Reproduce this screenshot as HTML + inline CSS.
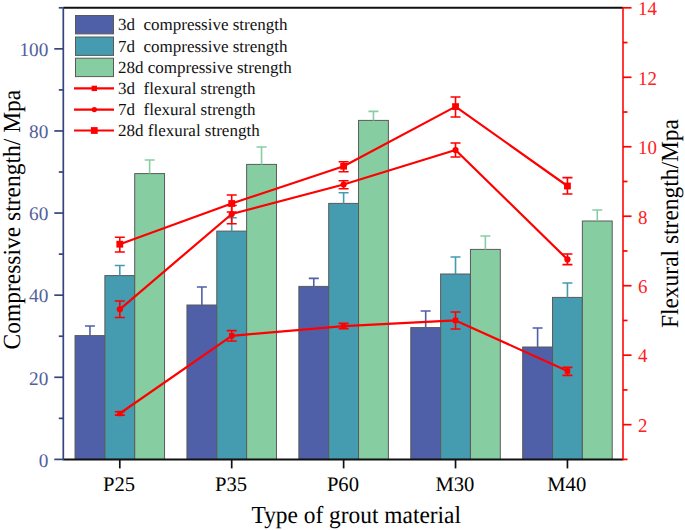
<!DOCTYPE html><html><head><meta charset="utf-8"><style>html,body{margin:0;padding:0;background:#fff;width:685px;height:530px;overflow:hidden}svg{display:block}text{font-family:"Liberation Serif",serif;text-rendering:geometricPrecision}</style></head><body>
<svg width="685" height="530" viewBox="0 0 685 530">
<rect x="75.04" y="335.60" width="29.84" height="123.80" fill="#4f60a9" stroke="#5a5a5a" stroke-width="1"/>
<path d="M89.96 335.60V326.00M84.96 326.00H94.96" stroke="#4f60a9" stroke-width="1.6" fill="none"/>
<rect x="186.95" y="305.00" width="29.84" height="154.40" fill="#4f60a9" stroke="#5a5a5a" stroke-width="1"/>
<path d="M201.87 305.00V287.00M196.87 287.00H206.87" stroke="#4f60a9" stroke-width="1.6" fill="none"/>
<rect x="298.86" y="286.40" width="29.84" height="173.00" fill="#4f60a9" stroke="#5a5a5a" stroke-width="1"/>
<path d="M313.78 286.40V278.40M308.78 278.40H318.78" stroke="#4f60a9" stroke-width="1.6" fill="none"/>
<rect x="410.77" y="327.60" width="29.84" height="131.80" fill="#4f60a9" stroke="#5a5a5a" stroke-width="1"/>
<path d="M425.69 327.60V311.00M420.69 311.00H430.69" stroke="#4f60a9" stroke-width="1.6" fill="none"/>
<rect x="522.68" y="347.00" width="29.84" height="112.40" fill="#4f60a9" stroke="#5a5a5a" stroke-width="1"/>
<path d="M537.60 347.00V328.00M532.60 328.00H542.60" stroke="#4f60a9" stroke-width="1.6" fill="none"/>
<rect x="104.88" y="275.60" width="29.84" height="183.80" fill="#459bb0" stroke="#5a5a5a" stroke-width="1"/>
<path d="M119.80 275.60V265.50M114.80 265.50H124.80" stroke="#459bb0" stroke-width="1.6" fill="none"/>
<rect x="216.79" y="231.10" width="29.84" height="228.30" fill="#459bb0" stroke="#5a5a5a" stroke-width="1"/>
<path d="M231.71 231.10V217.70M226.71 217.70H236.71" stroke="#459bb0" stroke-width="1.6" fill="none"/>
<rect x="328.70" y="203.40" width="29.84" height="256.00" fill="#459bb0" stroke="#5a5a5a" stroke-width="1"/>
<path d="M343.62 203.40V192.70M338.62 192.70H348.62" stroke="#459bb0" stroke-width="1.6" fill="none"/>
<rect x="440.61" y="274.00" width="29.84" height="185.40" fill="#459bb0" stroke="#5a5a5a" stroke-width="1"/>
<path d="M455.53 274.00V257.00M450.53 257.00H460.53" stroke="#459bb0" stroke-width="1.6" fill="none"/>
<rect x="552.52" y="297.40" width="29.84" height="162.00" fill="#459bb0" stroke="#5a5a5a" stroke-width="1"/>
<path d="M567.44 297.40V283.00M562.44 283.00H572.44" stroke="#459bb0" stroke-width="1.6" fill="none"/>
<rect x="134.72" y="173.60" width="29.84" height="285.80" fill="#86cea2" stroke="#5a5a5a" stroke-width="1"/>
<path d="M149.64 173.60V160.00M144.64 160.00H154.64" stroke="#86cea2" stroke-width="1.6" fill="none"/>
<rect x="246.63" y="164.40" width="29.84" height="295.00" fill="#86cea2" stroke="#5a5a5a" stroke-width="1"/>
<path d="M261.55 164.40V147.00M256.55 147.00H266.55" stroke="#86cea2" stroke-width="1.6" fill="none"/>
<rect x="358.54" y="120.40" width="29.84" height="339.00" fill="#86cea2" stroke="#5a5a5a" stroke-width="1"/>
<path d="M373.46 120.40V111.40M368.46 111.40H378.46" stroke="#86cea2" stroke-width="1.6" fill="none"/>
<rect x="470.45" y="249.40" width="29.84" height="210.00" fill="#86cea2" stroke="#5a5a5a" stroke-width="1"/>
<path d="M485.37 249.40V236.00M480.37 236.00H490.37" stroke="#86cea2" stroke-width="1.6" fill="none"/>
<rect x="582.36" y="221.00" width="29.84" height="238.40" fill="#86cea2" stroke="#5a5a5a" stroke-width="1"/>
<path d="M597.28 221.00V210.00M592.28 210.00H602.28" stroke="#86cea2" stroke-width="1.6" fill="none"/>
<path d="M119.80 413.50 L231.71 335.80 L343.62 326.10 L455.53 320.40 L567.44 371.00" stroke="#ff0000" stroke-width="2.2" fill="none" stroke-linejoin="round"/>
<path d="M119.80 411.80V415.10M114.80 411.80H124.80M114.80 415.10H124.80" stroke="#ff0000" stroke-width="1.6" fill="none"/>
<rect x="117.10" y="410.80" width="5.4" height="5.4" fill="#ff0000"/>
<path d="M231.71 330.60V341.00M226.71 330.60H236.71M226.71 341.00H236.71" stroke="#ff0000" stroke-width="1.6" fill="none"/>
<rect x="229.01" y="333.10" width="5.4" height="5.4" fill="#ff0000"/>
<path d="M343.62 323.40V328.60M338.62 323.40H348.62M338.62 328.60H348.62" stroke="#ff0000" stroke-width="1.6" fill="none"/>
<rect x="340.92" y="323.40" width="5.4" height="5.4" fill="#ff0000"/>
<path d="M455.53 312.00V329.00M450.53 312.00H460.53M450.53 329.00H460.53" stroke="#ff0000" stroke-width="1.6" fill="none"/>
<rect x="452.83" y="317.70" width="5.4" height="5.4" fill="#ff0000"/>
<path d="M567.44 367.40V375.40M562.44 367.40H572.44M562.44 375.40H572.44" stroke="#ff0000" stroke-width="1.6" fill="none"/>
<rect x="564.74" y="368.30" width="5.4" height="5.4" fill="#ff0000"/>
<path d="M119.80 309.30 L231.71 214.00 L343.62 184.50 L455.53 150.00 L567.44 259.40" stroke="#ff0000" stroke-width="2.2" fill="none" stroke-linejoin="round"/>
<path d="M119.80 301.00V317.50M114.80 301.00H124.80M114.80 317.50H124.80" stroke="#ff0000" stroke-width="1.6" fill="none"/>
<circle cx="119.80" cy="309.30" r="3.1" fill="#ff0000"/>
<path d="M231.71 205.50V223.80M226.71 205.50H236.71M226.71 223.80H236.71" stroke="#ff0000" stroke-width="1.6" fill="none"/>
<circle cx="231.71" cy="214.00" r="3.1" fill="#ff0000"/>
<path d="M343.62 180.80V188.80M338.62 180.80H348.62M338.62 188.80H348.62" stroke="#ff0000" stroke-width="1.6" fill="none"/>
<circle cx="343.62" cy="184.50" r="3.1" fill="#ff0000"/>
<path d="M455.53 143.00V157.00M450.53 143.00H460.53M450.53 157.00H460.53" stroke="#ff0000" stroke-width="1.6" fill="none"/>
<circle cx="455.53" cy="150.00" r="3.1" fill="#ff0000"/>
<path d="M567.44 254.00V264.60M562.44 254.00H572.44M562.44 264.60H572.44" stroke="#ff0000" stroke-width="1.6" fill="none"/>
<circle cx="567.44" cy="259.40" r="3.1" fill="#ff0000"/>
<path d="M119.80 244.20 L231.71 203.50 L343.62 166.20 L455.53 106.60 L567.44 186.00" stroke="#ff0000" stroke-width="2.2" fill="none" stroke-linejoin="round"/>
<path d="M119.80 237.20V252.00M114.80 237.20H124.80M114.80 252.00H124.80" stroke="#ff0000" stroke-width="1.6" fill="none"/>
<rect x="116.40" y="240.80" width="6.8" height="6.8" fill="#ff0000"/>
<path d="M231.71 195.00V212.00M226.71 195.00H236.71M226.71 212.00H236.71" stroke="#ff0000" stroke-width="1.6" fill="none"/>
<rect x="228.31" y="200.10" width="6.8" height="6.8" fill="#ff0000"/>
<path d="M343.62 161.70V171.70M338.62 161.70H348.62M338.62 171.70H348.62" stroke="#ff0000" stroke-width="1.6" fill="none"/>
<rect x="340.22" y="162.80" width="6.8" height="6.8" fill="#ff0000"/>
<path d="M455.53 97.00V117.00M450.53 97.00H460.53M450.53 117.00H460.53" stroke="#ff0000" stroke-width="1.6" fill="none"/>
<rect x="452.13" y="103.20" width="6.8" height="6.8" fill="#ff0000"/>
<path d="M567.44 177.60V194.00M562.44 177.60H572.44M562.44 194.00H572.44" stroke="#ff0000" stroke-width="1.6" fill="none"/>
<rect x="564.04" y="182.60" width="6.8" height="6.8" fill="#ff0000"/>
<path d="M63.30 7.80H623.00" stroke="#111" stroke-width="2"/>
<path d="M63.30 459.40H623.00" stroke="#111" stroke-width="2"/>
<path d="M63.30 7.00V460.20" stroke="#36447f" stroke-width="1.7"/>
<path d="M623.00 7.00V460.20" stroke="#ff0000" stroke-width="1.55"/>
<path d="M54.30 459.40H63.30" stroke="#36447f" stroke-width="1.7"/>
<text x="48.30" y="466.70" font-size="19.3" fill="#52619c" text-anchor="end">0</text>
<path d="M58.80 418.35H63.30" stroke="#36447f" stroke-width="1.7"/>
<path d="M54.30 377.29H63.30" stroke="#36447f" stroke-width="1.7"/>
<text x="48.30" y="384.59" font-size="19.3" fill="#52619c" text-anchor="end">20</text>
<path d="M58.80 336.24H63.30" stroke="#36447f" stroke-width="1.7"/>
<path d="M54.30 295.18H63.30" stroke="#36447f" stroke-width="1.7"/>
<text x="48.30" y="302.48" font-size="19.3" fill="#52619c" text-anchor="end">40</text>
<path d="M58.80 254.13H63.30" stroke="#36447f" stroke-width="1.7"/>
<path d="M54.30 213.07H63.30" stroke="#36447f" stroke-width="1.7"/>
<text x="48.30" y="220.37" font-size="19.3" fill="#52619c" text-anchor="end">60</text>
<path d="M58.80 172.02H63.30" stroke="#36447f" stroke-width="1.7"/>
<path d="M54.30 130.96H63.30" stroke="#36447f" stroke-width="1.7"/>
<text x="48.30" y="138.26" font-size="19.3" fill="#52619c" text-anchor="end">80</text>
<path d="M58.80 89.91H63.30" stroke="#36447f" stroke-width="1.7"/>
<path d="M54.30 48.85H63.30" stroke="#36447f" stroke-width="1.7"/>
<text x="48.30" y="56.15" font-size="19.3" fill="#52619c" text-anchor="end">100</text>
<path d="M58.80 7.80H63.30" stroke="#36447f" stroke-width="1.7"/>
<path d="M623.00 459.40H627.50" stroke="#ff0000" stroke-width="1.7"/>
<path d="M623.00 424.66H631.50" stroke="#ff0000" stroke-width="1.7"/>
<text transform="translate(638.00 431.96) scale(0.97 1)" font-size="19.5" fill="#ff2020">2</text>
<path d="M623.00 389.92H627.50" stroke="#ff0000" stroke-width="1.7"/>
<path d="M623.00 355.18H631.50" stroke="#ff0000" stroke-width="1.7"/>
<text transform="translate(638.00 362.48) scale(0.97 1)" font-size="19.5" fill="#ff2020">4</text>
<path d="M623.00 320.45H627.50" stroke="#ff0000" stroke-width="1.7"/>
<path d="M623.00 285.71H631.50" stroke="#ff0000" stroke-width="1.7"/>
<text transform="translate(638.00 293.01) scale(0.97 1)" font-size="19.5" fill="#ff2020">6</text>
<path d="M623.00 250.97H627.50" stroke="#ff0000" stroke-width="1.7"/>
<path d="M623.00 216.23H631.50" stroke="#ff0000" stroke-width="1.7"/>
<text transform="translate(638.00 223.53) scale(0.97 1)" font-size="19.5" fill="#ff2020">8</text>
<path d="M623.00 181.49H627.50" stroke="#ff0000" stroke-width="1.7"/>
<path d="M623.00 146.75H631.50" stroke="#ff0000" stroke-width="1.7"/>
<text transform="translate(638.00 154.05) scale(0.97 1)" font-size="19.5" fill="#ff2020">10</text>
<path d="M623.00 112.02H627.50" stroke="#ff0000" stroke-width="1.7"/>
<path d="M623.00 77.28H631.50" stroke="#ff0000" stroke-width="1.7"/>
<text transform="translate(638.00 84.58) scale(0.97 1)" font-size="19.5" fill="#ff2020">12</text>
<path d="M623.00 42.54H627.50" stroke="#ff0000" stroke-width="1.7"/>
<path d="M623.00 7.80H631.50" stroke="#ff0000" stroke-width="1.7"/>
<text transform="translate(638.00 15.10) scale(0.97 1)" font-size="19.5" fill="#ff2020">14</text>
<path d="M119.80 459.40V468.40" stroke="#111" stroke-width="1.7"/>
<text x="119.10" y="491" font-size="20.6" fill="#000" text-anchor="middle">P25</text>
<path d="M231.71 459.40V468.40" stroke="#111" stroke-width="1.7"/>
<text x="231.01" y="491" font-size="20.6" fill="#000" text-anchor="middle">P35</text>
<path d="M343.62 459.40V468.40" stroke="#111" stroke-width="1.7"/>
<text x="342.92" y="491" font-size="20.6" fill="#000" text-anchor="middle">P60</text>
<path d="M455.53 459.40V468.40" stroke="#111" stroke-width="1.7"/>
<text x="454.83" y="491" font-size="20.6" fill="#000" text-anchor="middle">M30</text>
<path d="M567.44 459.40V468.40" stroke="#111" stroke-width="1.7"/>
<text x="566.74" y="491" font-size="20.6" fill="#000" text-anchor="middle">M40</text>
<text x="251.5" y="523" font-size="24.6" textLength="209.5" lengthAdjust="spacingAndGlyphs" fill="#000">Type of grout material</text>
<text transform="translate(19.8 349.5) rotate(-90)" font-size="24.6" textLength="259.7" lengthAdjust="spacingAndGlyphs" fill="#000">Compressive strength/ Mpa</text>
<text transform="translate(678 328.1) rotate(-90)" font-size="24.6" textLength="209.1" lengthAdjust="spacingAndGlyphs" fill="#000">Flexural strength/Mpa</text>
<rect x="75.5" y="15.50" width="38" height="18.4" fill="#4f60a9" stroke="#5a5a5a" stroke-width="1"/>
<text x="118" y="30.10" font-size="17" fill="#111" xml:space="preserve" style="white-space:pre">3d  compressive strength</text>
<rect x="75.5" y="37.00" width="38" height="18.4" fill="#459bb0" stroke="#5a5a5a" stroke-width="1"/>
<text x="118" y="51.60" font-size="17" fill="#111" xml:space="preserve" style="white-space:pre">7d  compressive strength</text>
<rect x="75.5" y="58.20" width="38" height="18.4" fill="#86cea2" stroke="#5a5a5a" stroke-width="1"/>
<text x="118" y="72.80" font-size="17" fill="#111" xml:space="preserve" style="white-space:pre">28d compressive strength</text>
<path d="M74 88.40H114" stroke="#ff0000" stroke-width="2.2"/>
<rect x="91.60" y="85.70" width="5.4" height="5.4" fill="#ff0000"/>
<text x="118" y="93.80" font-size="17" fill="#111" xml:space="preserve" style="white-space:pre">3d  flexural strength</text>
<path d="M74 109.60H114" stroke="#ff0000" stroke-width="2.2"/>
<circle cx="94.3" cy="109.60" r="2.7" fill="#ff0000"/>
<text x="118" y="115.00" font-size="17" fill="#111" xml:space="preserve" style="white-space:pre">7d  flexural strength</text>
<path d="M74 130.50H114" stroke="#ff0000" stroke-width="2.2"/>
<rect x="90.90" y="127.10" width="6.8" height="6.8" fill="#ff0000"/>
<text x="118" y="135.90" font-size="17" fill="#111" xml:space="preserve" style="white-space:pre">28d flexural strength</text>
</svg></body></html>
